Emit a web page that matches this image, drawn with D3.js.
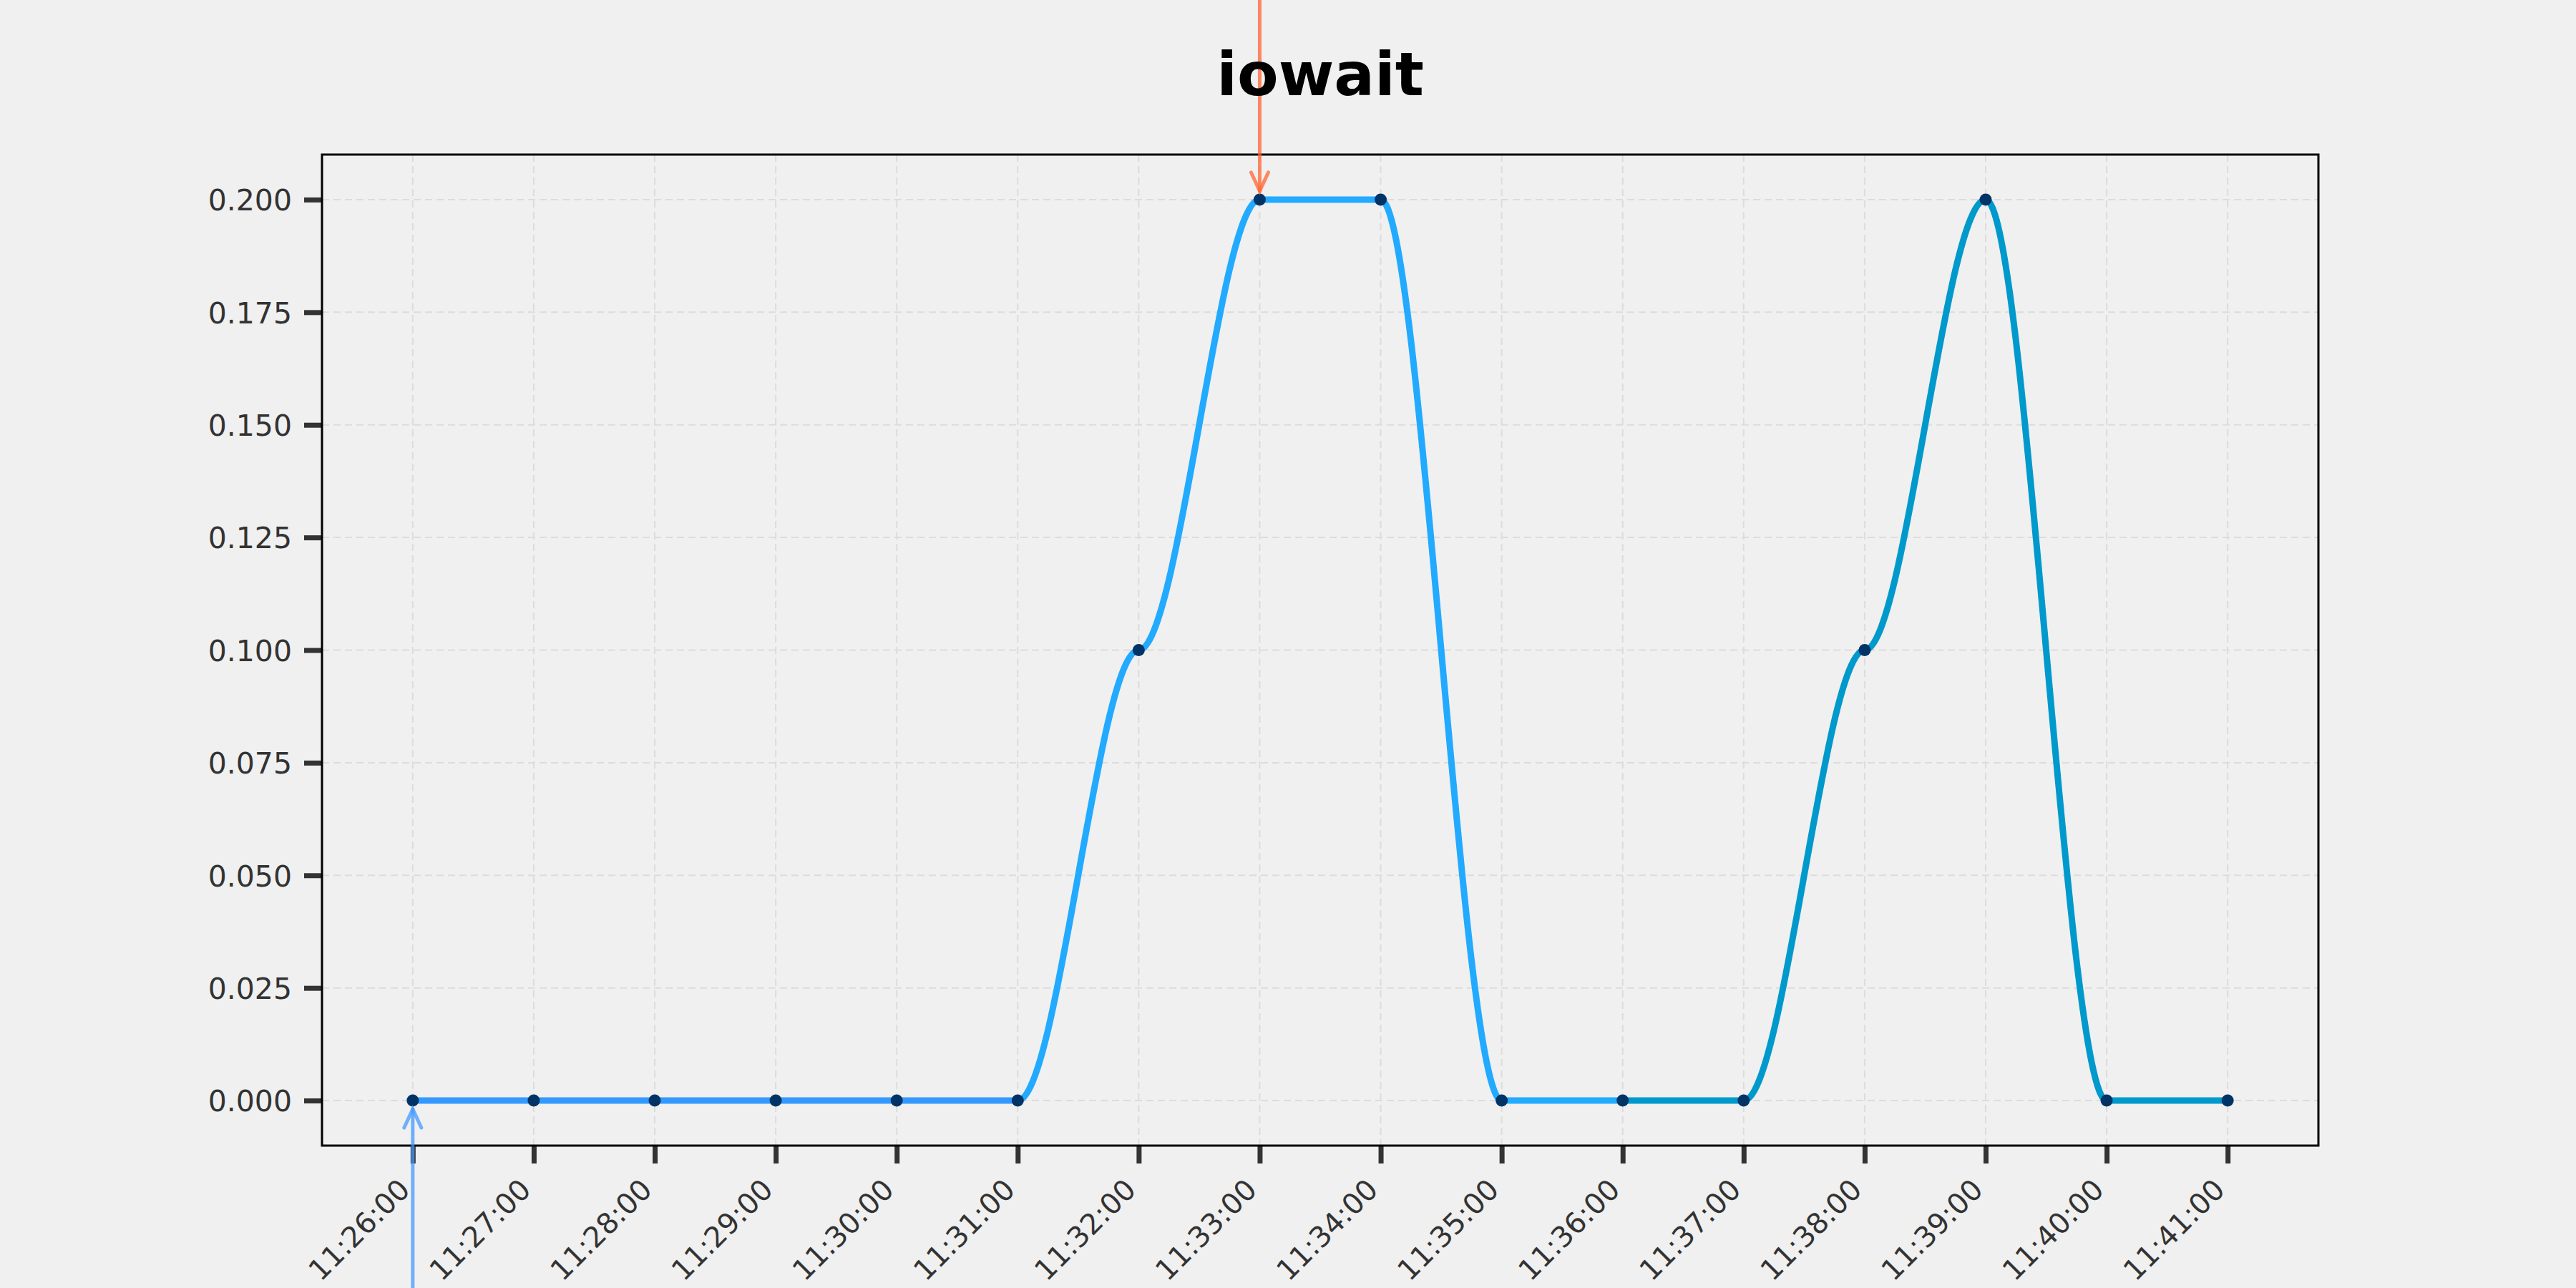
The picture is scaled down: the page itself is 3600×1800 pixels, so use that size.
<!DOCTYPE html>
<html>
<head>
<meta charset="utf-8">
<script src="https://cdn.jsdelivr.net/npm/d3@7"></script>
<style>
  body { margin: 0; background: #f0f0f0; }
  svg { display: block; font-family: "DejaVu Sans", sans-serif; }
</style>
</head>
<body>
<div id="graph1"></div>
<script>
// data
const times = ["11:26:00","11:27:00","11:28:00","11:29:00","11:30:00","11:31:00","11:32:00","11:33:00",
               "11:34:00","11:35:00","11:36:00","11:37:00","11:38:00","11:39:00","11:40:00","11:41:00"];
const iowait = [0, 0, 0, 0, 0, 0, 0.1, 0.2, 0.2, 0, 0, 0, 0.1, 0.2, 0, 0];
const yTicks = [0, 0.025, 0.05, 0.075, 0.1, 0.125, 0.15, 0.175, 0.2];
// each coloured stretch of the line: [first index, last index]
const stretches = [[0, 5], [5, 10], [10, 15]];
const stretchColors = ["#3399ff", "#22aaff", "#0099cc"];

const width = 3600;
const height = 1800;
const padding = {top: 216, left: 450, right: 360, bottom: 199};

const parseTime = d3.timeParse("%H:%M:%S");
const timeFormat = d3.timeFormat("%H:%M:%S");
const data = times.map((t, i) => ({time: parseTime(t), value: iowait[i]}));

const svg = d3.select("#graph1")
	.append("svg")
	.attr("width", width)
	.attr("height", height);

svg.append("rect").attr("width", width).attr("height", height).attr("fill", "#f0f0f0");

// 5% margins like the original
let tExt = d3.extent(data, d => d.time);
let tPad = (tExt[1] - tExt[0]) * 0.05;
let vExt = d3.extent(data, d => d.value);
let vPad = (vExt[1] - vExt[0]) * 0.05;

const xScale = d3.scaleTime()
	.domain([new Date(+tExt[0] - tPad), new Date(+tExt[1] + tPad)])
	.range([padding.left, width - padding.right]);

const yScale = d3.scaleLinear()
	.domain([vExt[0] - vPad, vExt[1] + vPad])
	.range([height - padding.bottom, padding.top]);

const x0 = padding.left, x1 = width - padding.right;
const y0 = height - padding.bottom, y1 = padding.top;

// grid
svg.append("g")
	.selectAll("line")
	.data(data)
	.join("line")
	.attr("x1", d => xScale(d.time)).attr("x2", d => xScale(d.time))
	.attr("y1", y1).attr("y2", y0)
	.attr("stroke", "#dcdcdc").attr("stroke-width", 2).attr("stroke-dasharray", "10,6");

svg.append("g")
	.selectAll("line")
	.data(yTicks)
	.join("line")
	.attr("x1", x0).attr("x2", x1)
	.attr("y1", d => yScale(d)).attr("y2", d => yScale(d))
	.attr("stroke", "#dcdcdc").attr("stroke-width", 2).attr("stroke-dasharray", "10,6");

// axes
const xAxis = d3.axisBottom(xScale)
	.tickValues(data.map(d => d.time))
	.tickFormat(timeFormat)
	.tickSize(25)
	.tickSizeOuter(0);

const yAxis = d3.axisLeft(yScale)
	.tickValues(yTicks)
	.tickFormat(d3.format(".3f"))
	.tickSize(25)
	.tickSizeOuter(0);

let gx = svg.append("g")
	.attr("transform", `translate(0, ${y0})`)
	.call(xAxis)
	.attr("font-family", "DejaVu Sans")
	.attr("font-size", 40);
gx.select(".domain").remove();
gx.selectAll(".tick line").attr("stroke", "#333").attr("stroke-width", 7);
gx.selectAll(".tick text")	    // rotate the axis labels
	.attr("fill", "#333")
	.style("text-anchor", "end")
	.attr("dy", null)
	.attr("y", 0)
	.attr("dominant-baseline", "central")
	.attr("transform", "translate(-12, 54) rotate(-45)");

let gy = svg.append("g")
	.attr("transform", `translate(${x0}, 0)`)
	.call(yAxis)
	.attr("font-family", "DejaVu Sans")
	.attr("font-size", 41);
gy.select(".domain").remove();
gy.selectAll(".tick line").attr("stroke", "#333").attr("stroke-width", 7);
gy.selectAll(".tick text")
	.attr("fill", "#333")
	.attr("x", -42)
	.attr("dy", "0.36em");

// frame
svg.append("rect")
	.attr("x", x0).attr("y", y1)
	.attr("width", x1 - x0).attr("height", y0 - y1)
	.attr("fill", "none").attr("stroke", "#000").attr("stroke-width", 3);

// smooth step between points: x moves evenly, y eases in and out
function curveEase(context) {
	let prev = null;
	return {
		areaStart() {}, areaEnd() {},
		lineStart() { prev = null; },
		lineEnd() {},
		point(x, y) {
			if (!prev) context.moveTo(x, y);
			else {
				let dx = (x - prev[0]) / 3;
				context.bezierCurveTo(prev[0] + dx, prev[1], x - dx, y, x, y);
			}
			prev = [x, y];
		}
	};
}

// line, one path per coloured stretch
const line = d3.line()
	.x(d => xScale(d.time))
	.y(d => yScale(d.value))
	.curve(curveEase);

svg.append("g")
	.selectAll("path")
	.data(stretches)
	.join("path")
	.attr("d", s => line(data.slice(s[0], s[1] + 1)))
	.attr("fill", "none")
	.attr("stroke", (s, i) => stretchColors[i])
	.attr("stroke-width", 9)
	.attr("stroke-linecap", "butt");

svg.append("g")
	.selectAll("circle")
	.data(data)
	.join("circle")
	.attr("cx", d => xScale(d.time))
	.attr("cy", d => yScale(d.value))
	.attr("r", 8.5)
	.attr("fill", "#003366");

// max / min arrows
function arrow(d, fromY, color) {
	let x = xScale(d.time);
	let yp = yScale(d.value);
	let dir = fromY < yp ? 1 : -1;
	let tip = yp - dir * 12;
	let g = svg.append("g")
		.attr("stroke", color)
		.attr("stroke-opacity", 0.75)
		.attr("stroke-width", 5)
		.attr("fill", "none")
		.attr("stroke-linecap", "round");
	g.append("line").attr("x1", x).attr("x2", x).attr("y1", fromY).attr("y2", tip);
	g.append("path").attr("d", `M${x - 12},${tip - dir * 26}L${x},${tip}L${x + 12},${tip - dir * 26}`)
		.attr("stroke-linejoin", "miter");
}

arrow(data[d3.maxIndex(iowait)], 0, "#ff6633");
arrow(data[d3.minIndex(iowait)], height, "#4499ff");

svg.append("text")
	.attr("x", (x0 + x1) / 2)
	.attr("y", 133)
	.attr("text-anchor", "middle")
	.style("font-size", "84px")
	.style("font-weight", "bold")
	.attr("fill", "#000")
	.text("iowait");
</script>
</body>
</html>
